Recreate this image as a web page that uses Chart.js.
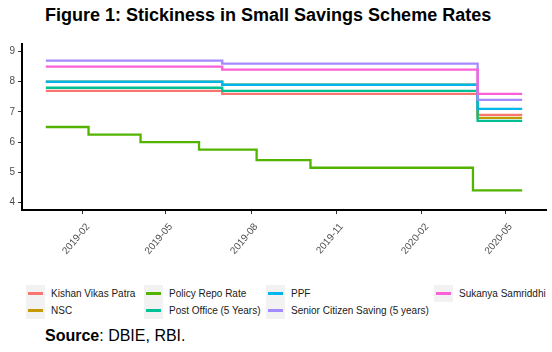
<!DOCTYPE html>
<html>
<head>
<meta charset="utf-8">
<script src="https://cdn.jsdelivr.net/npm/chart.js@4.4.0/dist/chart.umd.min.js"></script>
<style>
    body { margin: 0; background: #fff; }
    #wrap { position: relative; width: 552px; height: 352px; font-family: "Liberation Sans", Arial, sans-serif; }
    #title { position: absolute; left: 45px; top: 5px; font-size: 18px; font-weight: bold; line-height: 20px; white-space: nowrap; color: #000; }
    #ratesChart { position: absolute; left: 0; top: 0; }
    .legend-key { position: absolute; width: 19px; height: 17px; background: #f2f2f2; }
    .legend-key span { position: absolute; left: 2px; width: 15px; top: 7px; height: 3px; }
    .legend-text { position: absolute; font-size: 10px; line-height: 17px; height: 17px; color: #1a1a1a; white-space: nowrap; }
    #source { position: absolute; left: 45px; top: 327px; font-size: 16px; line-height: 18px; color: #000; white-space: nowrap; }
</style>
</head>
<body>
<div id="wrap">
    <div id="title">Figure 1: Stickiness in Small Savings Scheme Rates</div>
    <canvas id="ratesChart" width="552" height="262"></canvas>
    <div id="legend"></div>
    <div id="source"><b>Source</b>: DBIE, RBI.</div>
</div>
<script>
// small savings rates are revised quarterly, repo rate at MPC meetings
const schemeDates = ['2018-12-23', '2019-07-01', '2020-04-01', '2020-05-19'];
const kishanVikasPatra = [7.7, 7.6, 6.9, 6.9];
const nsc = [8.0, 7.9, 6.8, 6.8];
const postOffice5y = [7.8, 7.7, 6.7, 6.7];
const ppf = [8.0, 7.9, 7.1, 7.1];
const seniorCitizen = [8.7, 8.6, 7.4, 7.4];
const sukanyaSamriddhi = [8.5, 8.4, 7.6, 7.6];

const repoDates = ['2018-12-23', '2019-02-07', '2019-04-04', '2019-06-06', '2019-08-07', '2019-10-04', '2020-03-27', '2020-05-19'];
const repoRate = [6.5, 6.25, 6.0, 5.75, 5.4, 5.15, 4.4, 4.4];

const xTickDates = ['2019-02-01', '2019-05-01', '2019-08-01', '2019-11-01', '2020-02-01', '2020-05-01'];
const xTickLabels = ['2019-02', '2019-05', '2019-08', '2019-11', '2020-02', '2020-05'];
const yTicks = [4, 5, 6, 7, 8, 9];

const seriesNames = ['Kishan Vikas Patra', 'NSC', 'Policy Repo Rate', 'Post Office (5 Years)', 'PPF', 'Senior Citizen Saving (5 years)', 'Sukanya Samriddhi'];
const seriesColors = ['#F8766D', '#C49A00', '#53B400', '#00C094', '#00B6EB', '#A58AFF', '#FB61D7'];

function dayNum(d) {
    return (Date.parse(d) - Date.parse('2019-01-01')) / 864e5;
}

function toPoints(dates, values) {
    return dates.map((d, i) => ({ x: dayNum(d), y: values[i] }));
}

const seriesData = [
    toPoints(schemeDates, kishanVikasPatra),
    toPoints(schemeDates, nsc),
    toPoints(repoDates, repoRate),
    toPoints(schemeDates, postOffice5y),
    toPoints(schemeDates, ppf),
    toPoints(schemeDates, seniorCitizen),
    toPoints(schemeDates, sukanyaSamriddhi)
];

// ggplot style 5% expansion on the date axis
const xFirst = dayNum(schemeDates[0]);
const xLast = dayNum(schemeDates[schemeDates.length - 1]);
const xPad = (xLast - xFirst) * 0.05;

const tickFont = { family: '"Liberation Sans", Arial, sans-serif', size: 10 };

new Chart(document.getElementById('ratesChart').getContext('2d'), {
    type: 'line',
    data: {
        datasets: seriesNames.map((name, i) => ({
            label: name,
            data: seriesData[i],
            borderColor: seriesColors[i],
            backgroundColor: seriesColors[i],
            borderWidth: 2.3,
            pointRadius: 0,
            stepped: true,
            fill: false,
            // later series sit on top, like the original
            order: seriesNames.length - i
        }))
    },
    options: {
        responsive: false,
        animation: false,
        layout: { padding: { top: 44, right: 6, left: 0, bottom: 0 } },
        plugins: {
            legend: { display: false },
            tooltip: { enabled: false }
        },
        scales: {
            x: {
                type: 'linear',
                min: xFirst - xPad,
                max: xLast + xPad,
                afterBuildTicks: (scale) => {
                    scale.ticks = xTickDates.map(d => ({ value: dayNum(d) }));
                },
                afterFit: (scale) => { scale.height = 52; },
                grid: { drawOnChartArea: false, drawTicks: true, tickLength: 4, color: '#333333' },
                border: { display: true, color: '#000', width: 2 },
                ticks: {
                    autoSkip: false,
                    maxRotation: 50,
                    minRotation: 50,
                    padding: 7,
                    labelOffset: 5,
                    color: '#4D4D4D',
                    font: tickFont,
                    callback: (value) => {
                        const idx = xTickDates.findIndex(d => dayNum(d) === value);
                        return idx >= 0 ? xTickLabels[idx] : '';
                    }
                }
            },
            y: {
                min: 3.75,
                max: 9.25,
                afterBuildTicks: (scale) => {
                    scale.ticks = yTicks.map(v => ({ value: v }));
                },
                afterFit: (scale) => { scale.width = 22; },
                grid: { drawOnChartArea: false, drawTicks: true, tickLength: 4, color: '#333333' },
                border: { display: true, color: '#000', width: 2 },
                ticks: {
                    padding: 3,
                    color: '#4D4D4D',
                    font: tickFont
                }
            }
        }
    }
});

// legend laid out column by column in a 4 x 2 grid
const legendColX = [26, 144, 266, 434];
const legendRowY = [285, 302];
const legend = document.getElementById('legend');
seriesNames.forEach((name, i) => {
    const col = Math.floor(i / 2);
    const row = i % 2;
    const key = document.createElement('div');
    key.className = 'legend-key';
    key.style.left = legendColX[col] + 'px';
    key.style.top = legendRowY[row] + 'px';
    const line = document.createElement('span');
    line.style.background = seriesColors[i];
    key.appendChild(line);
    legend.appendChild(key);

    const text = document.createElement('div');
    text.className = 'legend-text';
    text.style.left = (legendColX[col] + 25) + 'px';
    text.style.top = legendRowY[row] + 'px';
    text.textContent = name;
    legend.appendChild(text);
});
</script>
</body>
</html>
